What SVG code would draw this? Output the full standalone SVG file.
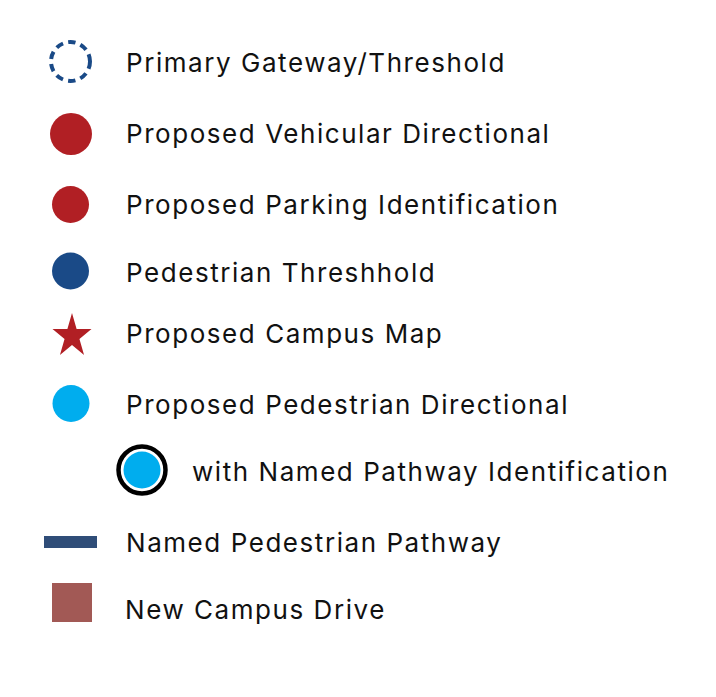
<svg xmlns="http://www.w3.org/2000/svg" width="716" height="697" viewBox="0 0 716 697">
<style>
text{font-family:Inter,"Noto Sans","Liberation Sans",sans-serif;font-size:26px;letter-spacing:1.55px;fill:#111}
.red{fill:#b11f24}
.blue{fill:#1a4a87}
.lb{fill:#00adee}
</style>
<rect width="716" height="697" fill="#fff"/>
<g id="gateway"><circle cx="70.5" cy="61.5" r="19.5" fill="none" stroke="#1a4a87" stroke-width="4" stroke-dasharray="7.5 5.2"/><text x="126" y="72">Primary Gateway/Threshold</text></g>
<g id="vehicular"><circle class="red" cx="71" cy="134" r="21"/><text x="126" y="143">Proposed Vehicular Directional</text></g>
<g id="parking"><circle class="red" cx="70.5" cy="204.5" r="18.5"/><text x="126" y="214">Proposed Parking Identification</text></g>
<g id="pedthreshold"><circle class="blue" cx="70.5" cy="271" r="18.5"/><text x="126" y="282">Pedestrian Threshhold</text></g>
<g id="campusmap"><polygon class="red" points="72,313 76.6,329 91.5,329 79.45,338.9 84.05,354.9 72,345 59.95,354.9 64.55,338.9 52.5,329 67.4,329"/><text x="126" y="343">Proposed Campus Map</text></g>
<g id="peddirectional"><circle class="lb" cx="71" cy="403.5" r="18.5"/><text x="126" y="414">Proposed Pedestrian Directional</text></g>
<g id="namedpathwayid"><circle cx="142" cy="470" r="23.5" fill="none" stroke="#000" stroke-width="4.5"/><circle class="lb" cx="142" cy="470" r="18.5"/><text x="192" y="481">with Named Pathway Identification</text></g>
<g id="namedpathway"><rect x="44" y="536" width="53" height="12" fill="#2f4d78"/><text x="126" y="552">Named Pedestrian Pathway</text></g>
<g id="campusdrive"><rect x="52" y="583" width="40" height="39" fill="#a25955"/><text x="125" y="619">New Campus Drive</text></g>
<g id="connectors"/>
</svg>
